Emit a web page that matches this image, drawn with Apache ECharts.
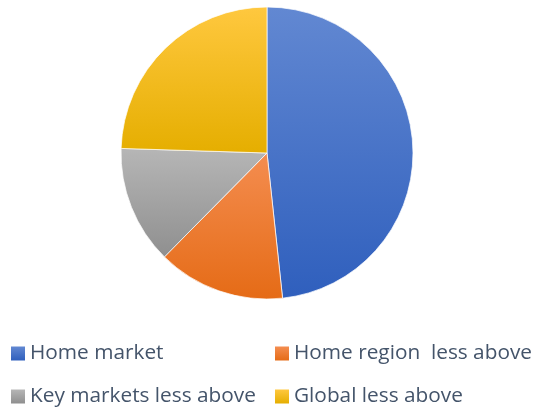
<!DOCTYPE html>
<html>
<head>
<meta charset="utf-8">
<script src="https://cdn.jsdelivr.net/npm/echarts@6/dist/echarts.min.js"></script>
<style>
  html, body { margin: 0; padding: 0; background: #fff; }
  #chart { width: 536px; height: 411px; }
</style>
</head>
<body>
<div id="chart"></div>
<script>
// Market share split by reach (percent)
const categories = ['Home market', 'Home region  less above', 'Key markets less above', 'Global less above'];
const shares = [48.3, 14.1, 13.1, 24.5];
// top / bottom gradient stops for each slice
const topColors = ['#6288d2', '#f48d50', '#b6b6b6', '#ffc83f'];
const bottomColors = ['#2f5fbd', '#e56b16', '#8f8f8f', '#e5ae00'];

function grad(i) {
  return new echarts.graphic.LinearGradient(0, 0, 0, 1, [
    { offset: 0, color: topColors[i] },
    { offset: 1, color: bottomColors[i] }
  ]);
}

const pieData = categories.map((name, i) => ({
  name: name,
  value: shares[i],
  itemStyle: { color: grad(i) }
}));

const legendBase = {
  orient: 'vertical',
  padding: 0,
  height: 90,
  itemWidth: 14,
  itemHeight: 14,
  itemGap: 22,
  icon: 'rect',
  selectedMode: false,
  itemStyle: { borderWidth: 0 },
  textStyle: { fontFamily: 'Open Sans', fontSize: 20.8, lineHeight: 21, color: '#44546a' }
};

const chart = echarts.init(document.getElementById('chart'), null, { renderer: 'canvas' });
chart.setOption({
  animation: false,
  backgroundColor: '#ffffff',
  legend: [
    Object.assign({}, legendBase, { left: 11, top: 343, data: [categories[0], categories[2]] }),
    Object.assign({}, legendBase, { left: 275, top: 343, data: [categories[1], categories[3]] })
  ],
  series: [{
    type: 'pie',
    center: [267, 153],
    radius: 146,
    startAngle: 90,
    clockwise: true,
    label: { show: false },
    labelLine: { show: false },
    emphasis: { disabled: true },
    itemStyle: { borderColor: 'rgba(255,255,255,0.7)', borderWidth: 1 },
    data: pieData
  }]
});
</script>
</body>
</html>
